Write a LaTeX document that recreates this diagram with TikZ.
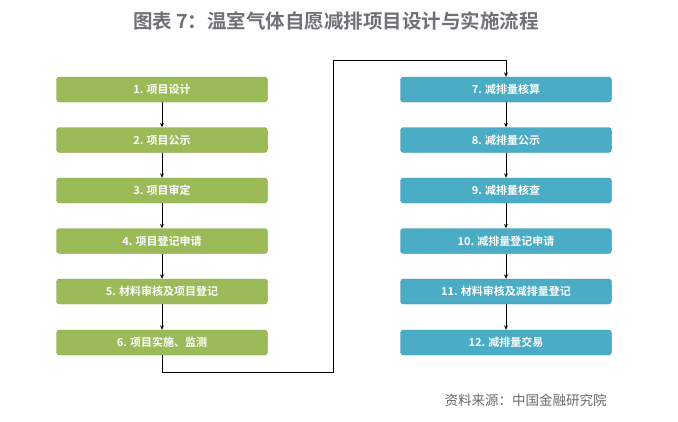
\documentclass[tikz,border=0pt]{standalone}
\usepackage{fontspec}
\newfontfamily\cjk{Noto Sans CJK SC}
\newfontfamily\cjkb{Noto Sans CJK SC Bold}
\usetikzlibrary{arrows.meta}
\definecolor{gfill}{HTML}{9BBB59}
\definecolor{gdraw}{HTML}{86A447}
\definecolor{bfill}{HTML}{4BACC6}
\definecolor{bdraw}{HTML}{3A94AD}
\definecolor{ttl}{HTML}{6E7175}
\definecolor{src}{HTML}{6A6A6A}
\tikzset{
  gbox/.style={draw=gdraw, fill=gfill, rounded corners=3pt, minimum width=211pt, minimum height=25pt, inner sep=0pt, text=white, font=\cjkb\fontsize{11}{13}\selectfont},
  bbox/.style={draw=bdraw, fill=bfill, rounded corners=3pt, minimum width=211pt, minimum height=25pt, inner sep=0pt, text=white, font=\cjkb\fontsize{11}{13}\selectfont},
  conn/.style={draw=black, line width=0.8pt},
  arr/.style={conn, -{Stealth[length=4.5pt,width=4pt]}}
}
\begin{document}
\begin{tikzpicture}[x=1pt,y=-1pt]
\useasboundingbox (0,0) rectangle (678,421);
\fill[white] (0,0) rectangle (678,421);
\node[font=\cjkb\fontsize{19.5}{22}\selectfont, text=ttl] (title) at (336,21) {图表 7：温室气体自愿减排项目设计与实施流程};
\node[gbox] (g1) at (162,89.5) {1. 项目设计};
\node[gbox] (g2) at (162,140) {2. 项目公示};
\node[gbox] (g3) at (162,190.5) {3. 项目审定};
\node[gbox] (g4) at (162,241) {4. 项目登记申请};
\node[gbox] (g5) at (162,291.5) {5. 材料审核及项目登记};
\node[gbox] (g6) at (162,342.5) {6. 项目实施、监测};
\node[bbox] (b7) at (506,89.5) {7. 减排量核算};
\node[bbox] (b8) at (506,140) {8. 减排量公示};
\node[bbox] (b9) at (506,190.5) {9. 减排量核查};
\node[bbox] (b10) at (506,241) {10. 减排量登记申请};
\node[bbox] (b11) at (506,291.5) {11. 材料审核及减排量登记};
\node[bbox] (b12) at (506,342.5) {12. 减排量交易};
\foreach \a/\b in {g1/g2,g2/g3,g3/g4,g4/g5,g5/g6,b7/b8,b8/b9,b9/b10,b10/b11,b11/b12}
  \draw[arr] (\a) -- (\b);
\coordinate (c1) at (162,372);
\coordinate (c2) at (333,372);
\coordinate (c3) at (333,60);
\coordinate (c4) at (506,60);
\draw[arr] (g6.south) -- (c1) -- (c2) -- (c3) -- (c4) -- (b7.north);
\node[anchor=west, font=\cjk\fontsize{13.5}{16}\selectfont, text=src] (source) at (441,400) {资料来源：中国金融研究院};
\end{tikzpicture}
\end{document}
